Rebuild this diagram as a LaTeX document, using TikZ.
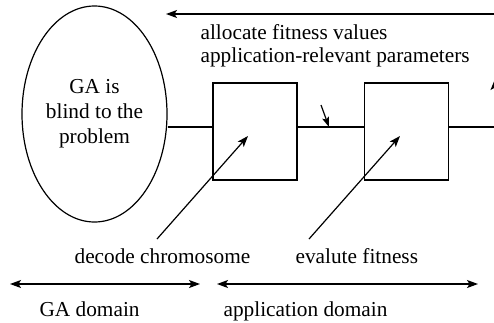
\documentclass[tikz,border=0pt]{standalone}
\usepackage{fontspec}
\setmainfont{Liberation Serif}
\usetikzlibrary{shapes.geometric,arrows.meta}
\begin{document}
\begin{tikzpicture}[x=1pt,y=-1pt,
  line width=1.2pt,
  tip/.style={-{Stealth[length=11pt,width=8pt,inset=2.5pt]}},
  dtip/.style={{Stealth[length=11pt,width=8pt,inset=2.5pt]}-{Stealth[length=11pt,width=8pt,inset=2.5pt]}},
  lbl/.style={inner sep=0pt,anchor=base west,font=\fontsize{21.3}{25}\selectfont},
  boxn/.style={draw,rectangle,minimum width=84pt,minimum height=97pt,inner sep=0pt}]
\clip (0,0) rectangle (494,322);
\fill[white] (0,0) rectangle (494,322);
% ellipse
\node[draw,ellipse,minimum width=145pt,minimum height=216pt,inner sep=0pt,align=center,
  font=\fontsize{21.3}{25}\selectfont] (ell) at (94.5,114) {GA is\\blind to the\\problem};
% boxes
\node[boxn] (b1) at (255,131.5) {};
\node[boxn] (b2) at (406.5,131.5) {};
% labels
\node[lbl] (alloc) at (200,39) {allocate fitness values};
\node[lbl] (param) at (200,62) {application-relevant parameters};
\node[lbl] (decode) at (74,263) {decode chromosome};
\node[lbl] (evalf) at (295,263) {evalute fitness};
\node[lbl] (gad) at (39,316) {GA domain};
\node[lbl] (appd) at (223,316) {application domain};
% coordinates
\coordinate (ly) at (0,127);
\coordinate (rend) at (494,127);
\coordinate (pm) at (329,127);
\coordinate (ps) at (321,105);
\coordinate (d1s) at (157,239);
\coordinate (d1e) at (248,136);
\coordinate (d2s) at (309,239);
\coordinate (d2e) at (400,136);
\coordinate (ts) at (494,14);
\coordinate (te) at (166,14);
\coordinate (rs) at (495,130);
\coordinate (re) at (495,79);
\coordinate (g1) at (10,284);
\coordinate (g2) at (200,284);
\coordinate (a1) at (217,284);
\coordinate (a2) at (478,284);
% main line
\draw (ell.east |- ly) -- (b1.west |- ly);
\draw (b1.east |- ly) -- (b2.west |- ly);
\draw (b2.east |- ly) -- (rend);
% arrows
\draw[-{Stealth[length=10pt,width=7pt,inset=2pt]}] (ps) -- (pm);
\draw[tip] (d1s) -- (d1e);
\draw[tip] (d2s) -- (d2e);
\draw[tip] (ts) -- (te);
\draw[-{Stealth[length=11pt,width=9pt,inset=2.5pt]}] (rs) -- (re);
\draw[dtip] (g1) -- (g2);
\draw[dtip] (a1) -- (a2);
\end{tikzpicture}
\end{document}
